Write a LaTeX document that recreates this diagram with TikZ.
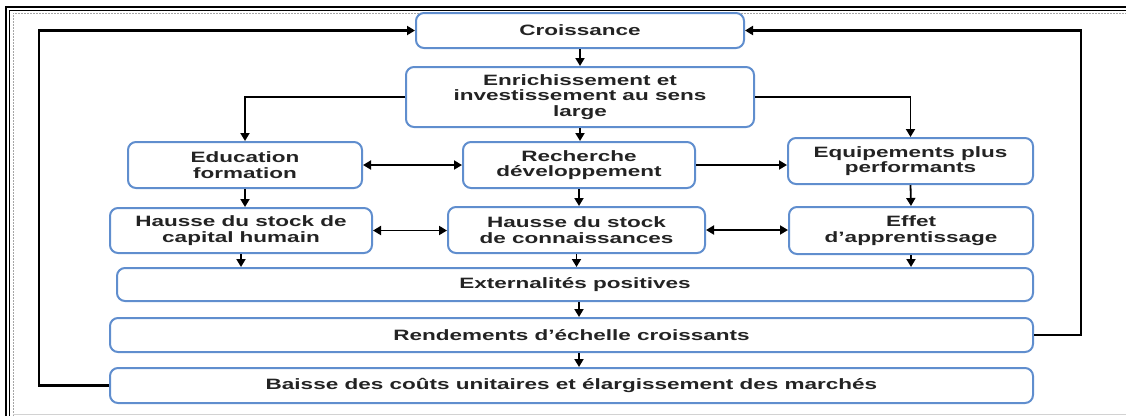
\documentclass[tikz,border=0pt]{standalone}
\usepackage{fontspec}
\setmainfont{Liberation Sans}[FakeStretch=1.5]
\usetikzlibrary{arrows.meta,positioning}
\definecolor{boxblue}{RGB}{96,142,206}
\definecolor{txtgray}{RGB}{35,35,35}
\definecolor{framegray}{RGB}{165,165,165}

\begin{document}
\begin{tikzpicture}[x=1pt, y=-1pt,
  >={Triangle[length=8pt,width=9pt]},
  b/.style={draw=boxblue, line width=2pt, rounded corners=8pt, align=center,
            text=txtgray, font=\fontsize{15}{15.5}\selectfont\bfseries, inner sep=2pt},
  ar/.style={->, line width=1.8pt},
  fb/.style={->, line width=2.4pt}]
\useasboundingbox (0,0) rectangle (1126,416);
% frame
\draw[line width=1.4pt] (6,416) -- (6,7) -- (1126,7);
\draw[line width=0.9pt] (9.5,416) -- (9.5,10.5) -- (1126,10.5);
\draw[framegray, line width=0.7pt, dash pattern=on 2pt off 1pt] (13,416) -- (13,13) -- (1126,13);
\draw[framegray!50, line width=0.8pt] (13,414.5) -- (1126,414.5);
% boxes
\node[b, minimum width=328pt, minimum height=35pt] (cr) at (580,30.5) {Croissance};
\node[b, minimum width=348pt, minimum height=60pt] (en) at (580,97)
  {Enrichissement et\\investissement au sens\\large};
\node[b, minimum width=234pt, minimum height=46pt] (ed) at (245,165) {Education\\formation};
\node[b, minimum width=232pt, minimum height=46pt] (rd) at (579,165) {Recherche\\développement};
\node[b, minimum width=245pt, minimum height=46pt] (eq) at (910.5,161) {Equipements plus\\performants};
\node[b, minimum width=262pt, minimum height=45pt] (hc) at (241,230.5) {Hausse du stock de\\capital humain};
\node[b, minimum width=257pt, minimum height=46pt] (hk) at (576.5,230) {Hausse du stock\\de connaissances};
\node[b, minimum width=244pt, minimum height=47pt] (ef) at (911,230.5) {Effet\\d’apprentissage};
\node[b, minimum width=916pt, minimum height=33pt] (ex) at (575,284.5) {Externalités positives};
\node[b, minimum width=923pt, minimum height=34pt] (rn) at (571.5,335) {Rendements d’échelle croissants};
\node[b, minimum width=923pt, minimum height=35pt] (bs) at (571.5,385.5)
  {Baisse des coûts unitaires et élargissement des marchés};
% connectors
\draw[ar] (cr.south) -- (en.north);
\draw[ar] (en.south) -- (en.south |- rd.north);
\draw[ar] (en.west) -| (ed.north);
\draw[ar] (en.east) -| (eq.north);
\draw[ar, <->] (ed.east) -- (rd.west);
\draw[ar] (rd.east) -- (rd.east -| eq.west);
\draw[ar] (ed.south) -- (ed.south |- hc.north);
\draw[ar] (rd.south) -- (rd.south |- hk.north);
\draw[ar] (eq.south) -- (ef.north);
\draw[ar, <->] (hc.east) -- (hc.east -| hk.west);
\draw[ar, <->] (hk.east) -- (hk.east -| ef.west);
\draw[ar] (hc.south) -- (hc.south |- ex.north);
\draw[ar] (hk.south) -- (hk.south |- ex.north);
\draw[ar] (ef.south) -- (ef.south |- ex.north);
\draw[ar] (ex.south -| 579,0) -- (rn.north -| 579,0);
\draw[ar] (rn.south -| 579,0) -- (bs.north -| 579,0);
% feedback loops
\draw[fb] (bs.west) -- ++(-70,0) |- (cr.west);
\draw[fb] (rn.east) -- ++(47,0) |- (cr.east);
\end{tikzpicture}
\end{document}
